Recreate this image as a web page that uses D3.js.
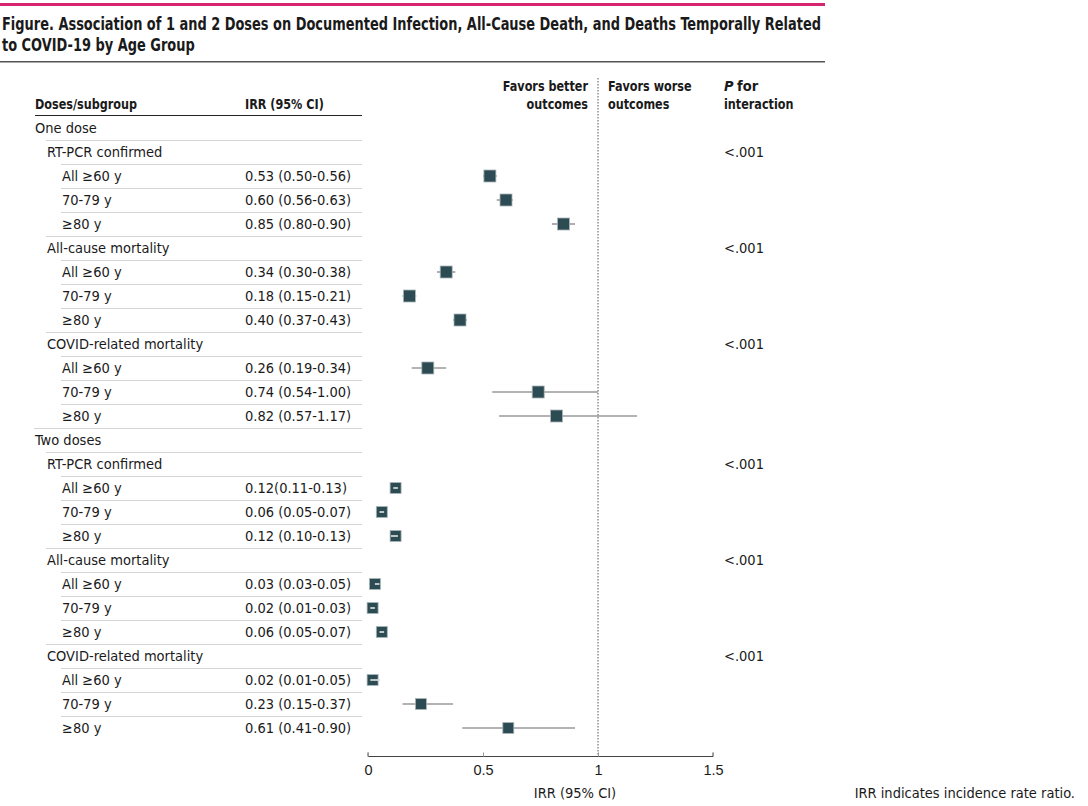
<!DOCTYPE html>
<html lang="en">
<head>
  <meta charset="UTF-8" />
  <title>Association of 1 and 2 Doses by Age Group</title>
  <script src="https://d3js.org/d3.v7.min.js"></script>
  <style>
    body { margin: 0; background: #fff; }
    svg { font-family: "Liberation Sans Narrow", "DejaVu Sans Condensed", "Roboto", sans-serif; }
  </style>
</head>
<body>
  <svg width="1088" height="806"></svg>

  <script>
  // rows: label, indent level, kind
  const labels = ["One dose", "RT-PCR confirmed", "All ≥60 y", "70-79 y", "≥80 y",
    "All-cause mortality", "All ≥60 y", "70-79 y", "≥80 y",
    "COVID-related mortality", "All ≥60 y", "70-79 y", "≥80 y",
    "Two doses", "RT-PCR confirmed", "All ≥60 y", "70-79 y", "≥80 y",
    "All-cause mortality", "All ≥60 y", "70-79 y", "≥80 y",
    "COVID-related mortality", "All ≥60 y", "70-79 y", "≥80 y"];
  const levels = [0, 1, 2, 2, 2, 1, 2, 2, 2, 1, 2, 2, 2, 0, 1, 2, 2, 2, 1, 2, 2, 2, 1, 2, 2, 2];
  const irrText = [null, null, "0.53 (0.50-0.56)", "0.60 (0.56-0.63)", "0.85 (0.80-0.90)",
    null, "0.34 (0.30-0.38)", "0.18 (0.15-0.21)", "0.40 (0.37-0.43)",
    null, "0.26 (0.19-0.34)", "0.74 (0.54-1.00)", "0.82 (0.57-1.17)",
    null, null, "0.12(0.11-0.13)", "0.06 (0.05-0.07)", "0.12 (0.10-0.13)",
    null, "0.03 (0.03-0.05)", "0.02 (0.01-0.03)", "0.06 (0.05-0.07)",
    null, "0.02 (0.01-0.05)", "0.23 (0.15-0.37)", "0.61 (0.41-0.90)"];
  const est = [null, null, 0.53, 0.60, 0.85, null, 0.34, 0.18, 0.40, null, 0.26, 0.74, 0.82,
    null, null, 0.12, 0.06, 0.12, null, 0.03, 0.02, 0.06, null, 0.02, 0.23, 0.61];
  const lo = [null, null, 0.50, 0.56, 0.80, null, 0.30, 0.15, 0.37, null, 0.19, 0.54, 0.57,
    null, null, 0.11, 0.05, 0.10, null, 0.03, 0.01, 0.05, null, 0.01, 0.15, 0.41];
  const hi = [null, null, 0.56, 0.63, 0.90, null, 0.38, 0.21, 0.43, null, 0.34, 1.00, 1.17,
    null, null, 0.13, 0.07, 0.13, null, 0.05, 0.03, 0.07, null, 0.05, 0.37, 0.90];
  const pInteraction = [null, "<.001", null, null, null, "<.001", null, null, null, "<.001", null, null, null,
    null, "<.001", null, null, null, "<.001", null, null, null, "<.001", null, null, null];
  const xTicks = [0, 0.5, 1, 1.5];

  const svg = d3.select("svg");
  const ink = "#1a1a1a";

  // bold face here is wider than the original's, so narrow it a bit
  function squeeze(sel, k) {
    sel.each(function () {
      const w = this.getComputedTextLength();
      d3.select(this).attr("textLength", w * k).attr("lengthAdjust", "spacingAndGlyphs");
    });
  }

  // title block
  svg.append("rect").attr("x", 0).attr("y", 3).attr("width", 825).attr("height", 3).attr("fill", "#d6246e");
  const t1 = svg.append("text").attr("x", 2).attr("y", 30).attr("font-size", 17).attr("font-weight", "bold").attr("fill", ink)
    .text("Figure. Association of 1 and 2 Doses on Documented Infection, All-Cause Death, and Deaths Temporally Related");
  const t2 = svg.append("text").attr("x", 2).attr("y", 51).attr("font-size", 17).attr("font-weight", "bold").attr("fill", ink)
    .text("to COVID-19 by Age Group");
  squeeze(t1, 0.847);
  squeeze(t2, 0.847);
  svg.append("rect").attr("x", 0).attr("y", 61).attr("width", 825).attr("height", 1.5).attr("fill", "#555");

  const x = d3.scaleLinear().domain([0, 1.5]).range([368, 713]);
  const y = d3.scaleBand().domain(d3.range(labels.length)).range([116, 740]);
  const rowY = i => y(i) + y.bandwidth() / 2;
  const indent = [35, 47, 62];

  const fs = 14.5;

  // table header
  const th = svg.append("g").attr("font-size", fs).attr("font-weight", "bold").attr("fill", ink);
  th.append("text").attr("x", 35).attr("y", 109).text("Doses/subgroup");
  th.append("text").attr("x", 245).attr("y", 109).text("IRR (95% CI)");
  svg.append("line").attr("x1", 35).attr("x2", 362).attr("y1", 115.5).attr("y2", 115.5).attr("stroke", "#222").attr("stroke-width", 1.2);

  // row separators (line above each row, starting at that row's indent)
  svg.append("g").selectAll("line")
    .data(d3.range(1, labels.length))
    .join("line")
    .attr("x1", i => indent[levels[i]] - 1)
    .attr("x2", 362)
    .attr("y1", i => Math.round(y(i)) + 0.5)
    .attr("y2", i => Math.round(y(i)) + 0.5)
    .attr("stroke", "#d4d4d4");

  svg.append("g").selectAll("text")
    .data(labels)
    .join("text")
    .attr("x", (d, i) => indent[levels[i]])
    .attr("y", (d, i) => rowY(i))
    .attr("dy", "0.35em")
    .attr("font-size", fs)
    .attr("fill", ink)
    .text(d => d);

  svg.append("g").selectAll("text")
    .data(d3.range(labels.length).filter(i => irrText[i]))
    .join("text")
    .attr("x", 245)
    .attr("y", i => rowY(i))
    .attr("dy", "0.35em")
    .attr("font-size", fs)
    .attr("fill", ink)
    .text(i => irrText[i]);

  // plot header
  th.append("text").attr("x", 588).attr("y", 91).attr("text-anchor", "end").text("Favors better");
  th.append("text").attr("x", 588).attr("y", 109).attr("text-anchor", "end").text("outcomes");
  th.append("text").attr("x", 608).attr("y", 91).text("Favors worse");
  th.append("text").attr("x", 608).attr("y", 109).text("outcomes");
  th.append("text").attr("x", 724).attr("y", 109).text("interaction");
  squeeze(th.selectAll("text"), 0.86);
  const pt = th.append("text").attr("x", 724).attr("y", 91);
  pt.append("tspan").attr("font-style", "italic").text("P");
  pt.append("tspan").attr("dx", -1).text(" for");

  // reference line at 1
  svg.append("line")
    .attr("x1", x(1)).attr("x2", x(1)).attr("y1", 78).attr("y2", 756)
    .attr("stroke", "#555").attr("stroke-width", 1).attr("stroke-dasharray", "1.5,1.5");

  // x axis
  const axis = svg.append("g").attr("transform", "translate(0,756.5)")
    .call(d3.axisTop(x).tickValues(xTicks).tickSize(4).tickFormat(d => d3.format("")(d)));
  axis.select(".domain").attr("stroke", "#444").attr("d", `M${x(0)},-4V0H${x(1.5)}V-4`);
  axis.selectAll(".tick line").attr("stroke", "#999");
  axis.selectAll(".tick text")
    .attr("y", 18).attr("dy", "0").attr("font-size", fs).attr("fill", ink)
    .attr("font-family", null);
  svg.append("text").attr("x", x(0.9)).attr("y", 798).attr("text-anchor", "middle")
    .attr("font-size", fs).attr("fill", ink).text("IRR (95% CI)");

  // p values
  svg.append("g").selectAll("text")
    .data(d3.range(labels.length).filter(i => pInteraction[i]))
    .join("text")
    .attr("x", 724)
    .attr("y", i => rowY(i))
    .attr("dy", "0.35em")
    .attr("font-size", fs)
    .attr("fill", ink)
    .text(i => pInteraction[i]);

  // markers
  const idx = d3.range(labels.length).filter(i => est[i] != null);
  const sq = i => i < 13 ? 12 : 11;

  svg.append("g").selectAll("line")
    .data(idx)
    .join("line")
    .attr("x1", i => x(lo[i]))
    .attr("x2", i => x(hi[i]))
    .attr("y1", i => rowY(i))
    .attr("y2", i => rowY(i))
    .attr("stroke", "#9a9a9a")
    .attr("stroke-width", 1.6);

  svg.append("g").selectAll("rect")
    .data(idx)
    .join("rect")
    .attr("x", i => x(est[i]) - sq(i) / 2)
    .attr("y", i => rowY(i) - sq(i) / 2)
    .attr("width", sq)
    .attr("height", sq)
    .attr("fill", "#2d4b52")
    .attr("stroke", "#a9b7b9")
    .attr("stroke-width", 0.8);

  // CIs narrower than the square show through it as a light bar
  const inner = idx.filter(i => x(hi[i]) - x(lo[i]) < sq(i));
  svg.append("g").selectAll("line")
    .data(inner)
    .join("line")
    .attr("x1", i => x(lo[i]))
    .attr("x2", i => Math.max(x(hi[i]), x(lo[i]) + 2))
    .attr("y1", i => rowY(i))
    .attr("y2", i => rowY(i))
    .attr("stroke", "#e4e8e8")
    .attr("stroke-width", 1.6);

  // footnote
  svg.append("text").attr("x", 1075).attr("y", 798).attr("text-anchor", "end")
    .attr("font-size", fs).attr("fill", ink).text("IRR indicates incidence rate ratio.");
  </script>
</body>
</html>
